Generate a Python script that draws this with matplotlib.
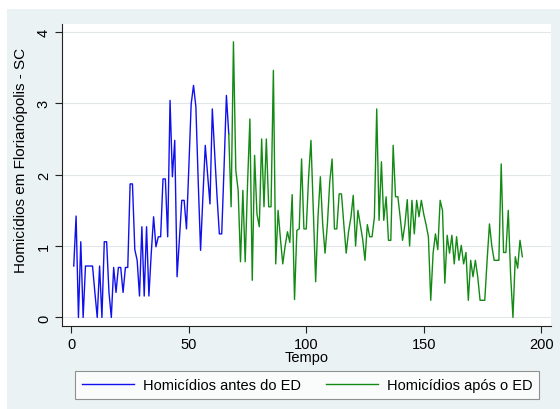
import matplotlib
matplotlib.use("Agg")
import matplotlib.pyplot as plt
from matplotlib.patches import Rectangle
import numpy as np

plt.rcParams['font.family'] = ['Liberation Sans', 'DejaVu Sans']

# Time index and values
before_t = list(range(1, 68))
before_vals = [0.72, 1.42, 0, 1.06, 0, 0.72, 0.72, 0.72, 0.72, 0.35,
               0, 0.72, 0, 1.06, 1.06, 0.35, 0, 0.7, 0.35, 0.7,
               0.7, 0.35, 0.7, 0.7, 1.87, 1.87, 0.95, 0.8, 0.3, 1.27,
               0.3, 1.27, 0.3, 0.9, 1.41, 0.99, 1.13, 1.13, 1.94, 1.94,
               1.13, 3.04, 1.97, 2.48, 0.57, 1.1, 1.64, 1.64, 1.24, 2.1,
               2.99, 3.25, 2.95, 1.9, 0.94, 1.7, 2.41, 2.0, 1.59, 2.92,
               2.3, 1.7, 1.17, 1.17, 2.1, 3.11, 2.57]

after_t = list(range(67, 193))
after_vals = [2.57, 1.55, 3.86, 2.06, 1.78, 0.78, 1.78, 0.78, 1.87, 2.78,
              0.52, 2.27, 1.45, 1.27, 2.5, 1.55, 2.5, 1.55, 1.55, 3.46,
              0.75, 1.5, 1.1, 0.75, 1.0, 1.2, 1.05, 1.72, 0.25, 1.22,
              1.24, 2.22, 1.24, 1.24, 1.97, 2.48, 1.5, 0.5, 1.41, 1.97,
              1.3, 0.9, 1.31, 1.9, 2.22, 1.24, 1.24, 1.73, 1.73, 1.3,
              0.9, 1.2, 1.4, 1.71, 1.0, 1.5, 1.3, 1.1, 0.8, 1.3,
              1.13, 1.13, 1.4, 2.92, 1.36, 2.18, 1.36, 1.69, 1.08, 1.08,
              2.41, 1.69, 1.69, 1.4, 1.08, 1.3, 1.65, 1.0, 1.64, 1.17,
              1.64, 1.41, 1.64, 1.45, 1.3, 1.13, 0.24, 0.9, 1.17, 0.95,
              1.64, 1.5, 0.48, 1.15, 0.9, 1.15, 0.75, 1.13, 0.8, 1.01,
              0.75, 0.91, 0.24, 0.8, 0.57, 0.8, 0.57, 0.24, 0.24, 0.24,
              0.8, 1.31, 1.0, 0.8, 0.8, 0.8, 2.15, 0.91, 0.91, 1.5,
              0.6, 0.0, 0.85, 0.69, 1.08, 0.85]

x_ticks = [0, 50, 100, 150, 200]
y_ticks = [0, 1, 2, 3, 4]
label_before = "Homicídios antes do ED"
label_after = "Homicídios após o ED"
x_title = "Tempo"
y_title = "Homicídios em Florianópolis - SC"

W, H = 560, 410
fig = plt.figure(figsize=(W / 100, H / 100), dpi=100)
fig.patch.set_facecolor('white')
bg = Rectangle((7 / W, 0), 1 - 7 / W, 1 - 10 / H, transform=fig.transFigure,
               facecolor='#eaf2f3', edgecolor='none', zorder=-10)
fig.patches.append(bg)

left, right, top, bottom = 62, 551, 25, 327
ax = fig.add_axes([left / W, 1 - bottom / H, (right - left) / W, (bottom - top) / H])
ax.set_facecolor('white')

ax.plot(before_t, before_vals, color='#1010ee', lw=1.0, label=label_before)
ax.plot(after_t, after_vals, color='#138a13', lw=1.0, label=label_after)

ax.set_xlim(-4, 204.2)
ax.set_ylim(-0.12, 4.11)
ax.set_xticks(x_ticks)
ax.set_yticks(y_ticks)
ax.grid(axis='y', color='#e2e7e9', lw=0.8)
ax.set_axisbelow(True)
for s in ['top', 'right']:
    ax.spines[s].set_visible(False)
for s in ['left', 'bottom']:
    ax.spines[s].set_color('#222222')
    ax.spines[s].set_linewidth(0.8)
ax.tick_params(axis='both', direction='out', length=5, width=0.8, color='#222222',
               labelsize=10.5, pad=3)
for lab in ax.get_yticklabels():
    lab.set_rotation(90)
    lab.set_va('center')
ax.set_xlabel(x_title, fontsize=10.5, labelpad=-1)
ax.set_ylabel(y_title, fontsize=11)
ax.yaxis.set_label_coords((28 - left) / (right - left), (bottom - 160) / (bottom - top))

leg = fig.legend(loc='center', bbox_to_anchor=(307 / W, 1 - 386 / H), ncol=2,
                 frameon=True, fancybox=False, fontsize=10.5, handlelength=3.6,
                 columnspacing=1.7, handletextpad=0.6, borderpad=0.45)
leg.get_frame().set_edgecolor('#777777')
leg.get_frame().set_linewidth(0.8)

fig.savefig('out.png', dpi=100)
